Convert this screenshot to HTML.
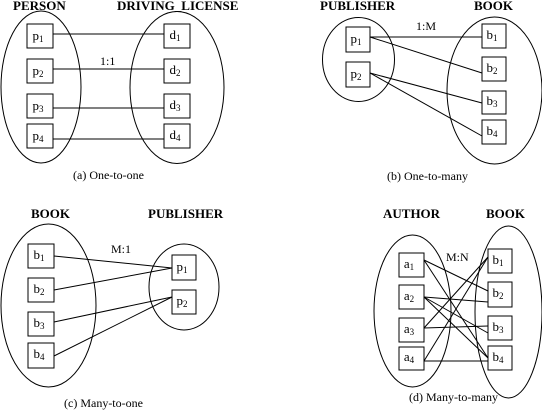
<!DOCTYPE html>
<html><head><style>
html,body{margin:0;padding:0;background:#fff;}
svg{display:block;}
svg text{font-family:"Liberation Serif","DejaVu Serif","Times New Roman",Times,serif;fill:#000;}
.h{font-weight:bold;font-size:13px;}
.t{font-size:13px;}
.c{font-size:12px;}
</style></head><body>
<svg width="542" height="411" viewBox="0 0 542 411" xmlns="http://www.w3.org/2000/svg" font-family="Liberation Serif, DejaVu Serif, serif">
<g fill="none" stroke="#000" stroke-width="1">
<ellipse cx="41" cy="87" rx="40" ry="76"/>
<ellipse cx="177" cy="87.5" rx="47" ry="76"/>
<rect x="27" y="24" width="26" height="24"/><rect x="27" y="59" width="26" height="24"/>
<rect x="27" y="94" width="26" height="24"/><rect x="27" y="124" width="26" height="24"/>
<rect x="164" y="24" width="26" height="24"/><rect x="164" y="59" width="26" height="24"/>
<rect x="164" y="94" width="26" height="24"/><rect x="164" y="124" width="26" height="24"/>
<line x1="53" y1="34" x2="164" y2="34"/><line x1="53" y1="69" x2="164" y2="69"/>
<line x1="53" y1="108" x2="164" y2="108"/><line x1="53" y1="139" x2="164" y2="139"/>
<ellipse cx="358.5" cy="59.5" rx="36" ry="42"/>
<ellipse cx="494.5" cy="90.5" rx="47.5" ry="73.5"/>
<rect x="346" y="27" width="24" height="25"/><rect x="346" y="62" width="24" height="25"/>
<rect x="482" y="24" width="24" height="24"/><rect x="482" y="57" width="24" height="24"/>
<rect x="482" y="91" width="24" height="23"/><rect x="482" y="120" width="24" height="24"/>
<line x1="370" y1="37" x2="482" y2="37"/><line x1="370" y1="37" x2="482" y2="73"/>
<line x1="370" y1="73" x2="482" y2="103"/><line x1="370" y1="73" x2="482" y2="136"/>
<ellipse cx="48.5" cy="305.5" rx="47.5" ry="81.5"/>
<ellipse cx="184" cy="287" rx="35" ry="43"/>
<rect x="28" y="244" width="26" height="24"/><rect x="28" y="278" width="26" height="24"/>
<rect x="28" y="312" width="26" height="24"/><rect x="28" y="343" width="26" height="25"/>
<rect x="172" y="255" width="24" height="25"/><rect x="172" y="290" width="24" height="24"/>
<line x1="54" y1="256" x2="172" y2="268"/><line x1="54" y1="290" x2="172" y2="268"/>
<line x1="54" y1="322" x2="172" y2="297"/><line x1="54" y1="356" x2="172" y2="297"/>
<ellipse cx="412.5" cy="311" rx="38.5" ry="76"/>
<ellipse cx="508.5" cy="312" rx="33.5" ry="86"/>
<rect x="399" y="253" width="25" height="24"/><rect x="399" y="285" width="25" height="24"/>
<rect x="399" y="318" width="25" height="24"/><rect x="399" y="347" width="25" height="23"/>
<rect x="488" y="249" width="24" height="24"/><rect x="488" y="282" width="24" height="25"/>
<rect x="488" y="316" width="24" height="24"/><rect x="488" y="346" width="24" height="24"/>
<line x1="424" y1="260" x2="488" y2="291"/><line x1="424" y1="260" x2="488" y2="358"/>
<line x1="424" y1="297" x2="488" y2="302"/><line x1="424" y1="297" x2="488" y2="333"/>
<line x1="424" y1="297" x2="488" y2="358"/>
<line x1="424" y1="328" x2="488" y2="257"/><line x1="424" y1="328" x2="488" y2="326"/>
<line x1="424" y1="361" x2="488" y2="257"/><line x1="424" y1="361" x2="488" y2="361"/>
</g>
<text class="h" x="13" y="10">PERSON</text>
<text class="h" x="117" y="10">DRIVING_LICENSE</text>
<text class="h" x="320" y="10">PUBLISHER</text>
<text class="h" x="474" y="10">BOOK</text>
<text class="h" x="31" y="218">BOOK</text>
<text class="h" x="148" y="218">PUBLISHER</text>
<text class="h" x="383" y="218">AUTHOR</text>
<text class="h" x="486" y="218">BOOK</text>
<text class="c" x="100" y="65">1:1</text>
<text class="c" x="416" y="30">1:M</text>
<text class="c" x="111" y="253">M:1</text>
<text class="c" x="446" y="261">M:N</text>
<text class="c" x="73" y="179">(a) One-to-one</text>
<text class="c" x="387" y="180">(b) One-to-many</text>
<text class="c" x="64" y="407">(c) Many-to-one</text>
<text class="c" x="409" y="401">(d) Many-to-many</text>
<g text-anchor="middle">
<text class="t" x="38" y="40">p<tspan font-size="9" dy="2">1</tspan></text>
<text class="t" x="38" y="75">p<tspan font-size="9" dy="2">2</tspan></text>
<text class="t" x="38" y="110">p<tspan font-size="9" dy="2">3</tspan></text>
<text class="t" x="38" y="140">p<tspan font-size="9" dy="2">4</tspan></text>
<text class="t" x="175" y="39">d<tspan font-size="9" dy="2">1</tspan></text>
<text class="t" x="175" y="74">d<tspan font-size="9" dy="2">2</tspan></text>
<text class="t" x="175" y="109">d<tspan font-size="9" dy="2">3</tspan></text>
<text class="t" x="175" y="139">d<tspan font-size="9" dy="2">4</tspan></text>
<text class="t" x="356" y="43">p<tspan font-size="9" dy="2">1</tspan></text>
<text class="t" x="356" y="78">p<tspan font-size="9" dy="2">2</tspan></text>
<text class="t" x="492" y="39">b<tspan font-size="9" dy="2">1</tspan></text>
<text class="t" x="492" y="72">b<tspan font-size="9" dy="2">2</tspan></text>
<text class="t" x="492" y="105">b<tspan font-size="9" dy="2">3</tspan></text>
<text class="t" x="492" y="135">b<tspan font-size="9" dy="2">4</tspan></text>
<text class="t" x="39" y="259">b<tspan font-size="9" dy="2">1</tspan></text>
<text class="t" x="39" y="293">b<tspan font-size="9" dy="2">2</tspan></text>
<text class="t" x="39" y="327">b<tspan font-size="9" dy="2">3</tspan></text>
<text class="t" x="39" y="358">b<tspan font-size="9" dy="2">4</tspan></text>
<text class="t" x="182" y="271">p<tspan font-size="9" dy="2">1</tspan></text>
<text class="t" x="182" y="305">p<tspan font-size="9" dy="2">2</tspan></text>
<text class="t" x="409" y="268">a<tspan font-size="9" dy="2">1</tspan></text>
<text class="t" x="409" y="300">a<tspan font-size="9" dy="2">2</tspan></text>
<text class="t" x="409" y="333">a<tspan font-size="9" dy="2">3</tspan></text>
<text class="t" x="409" y="361">a<tspan font-size="9" dy="2">4</tspan></text>
<text class="t" x="498" y="264">b<tspan font-size="9" dy="2">1</tspan></text>
<text class="t" x="498" y="297">b<tspan font-size="9" dy="2">2</tspan></text>
<text class="t" x="498" y="331">b<tspan font-size="9" dy="2">3</tspan></text>
<text class="t" x="498" y="361">b<tspan font-size="9" dy="2">4</tspan></text>
</g>
</svg>
</body></html>
